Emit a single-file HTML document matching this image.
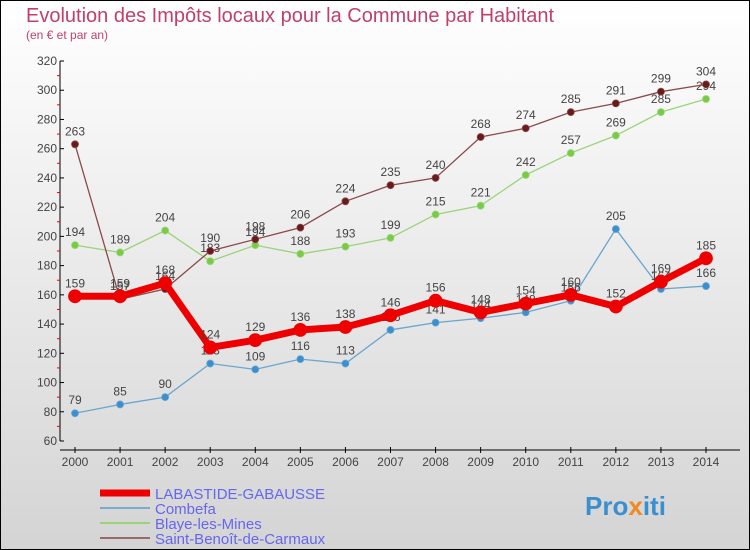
<!DOCTYPE html>
<html><head><meta charset="utf-8"><style>
body{margin:0;width:750px;height:550px;overflow:hidden}
svg{display:block;font-family:"Liberation Sans",sans-serif}
</style></head><body>
<svg id="c" width="750" height="550">
<defs><linearGradient id="bg" x1="0" y1="0" x2="0" y2="1"><stop offset="0" stop-color="#ffffff"/><stop offset="1" stop-color="#d4d4d4"/></linearGradient></defs>
<rect x="0.5" y="0.5" width="749" height="549" fill="url(#bg)" stroke="#000"/>
<text x="26" y="22" font-size="20" fill="#c0406a">Evolution des Impôts locaux pour la Commune par Habitant</text>
<text x="26" y="39" font-size="12" fill="#c0406a">(en € et par an)</text>
<g id="axes"></g><g id="series"></g>
<g>
<line x1="100" y1="493" x2="150" y2="493" stroke="#e00" stroke-width="7"/>
<text x="155" y="499" font-size="15" fill="#6666ee">LABASTIDE-GABAUSSE</text>
<line x1="100" y1="508" x2="150" y2="508" stroke="#7aabcc" stroke-width="2"/>
<text x="155" y="514" font-size="15" fill="#6666ee">Combefa</text>
<line x1="100" y1="523" x2="150" y2="523" stroke="#99d477" stroke-width="2"/>
<text x="155" y="529" font-size="15" fill="#6666ee">Blaye-les-Mines</text>
<line x1="100" y1="538" x2="150" y2="538" stroke="#9a6a6a" stroke-width="2"/>
<text x="155" y="544" font-size="15" fill="#6666ee">Saint-Benoît-de-Carmaux</text>
</g>
<text x="585" y="515" font-size="26" font-weight="bold" fill="#3a8fd0">Pro<tspan fill="#f08a20">x</tspan>iti</text>
</svg>
<script>
const years=[2000,2001,2002,2003,2004,2005,2006,2007,2008,2009,2010,2011,2012,2013,2014];
const yTicks=[60,80,100,120,140,160,180,200,220,240,260,280,300,320];
const labastide=[159,159,168,124,129,136,138,146,156,148,154,160,152,169,185];
const combefa=[79,85,90,113,109,116,113,136,141,144,148,156,205,164,166];
const blaye=[194,189,204,183,194,188,193,199,215,221,242,257,269,285,294];
const stbenoit=[263,157,164,190,198,206,224,235,240,268,274,285,291,299,304];
const NS="http://www.w3.org/2000/svg";
const X=i=>75+i*(706-75)/14, Y=v=>441-(v-60)*380/260;
function mk(t,a,p){const e=document.createElementNS(NS,t);for(const k in a)e.setAttribute(k,a[k]);p.appendChild(e);return e;}
const ax=document.getElementById('axes');
const ya=mk('line',{x1:60,y1:61,x2:60,y2:441,stroke:'#000'},ax);


yTicks.forEach((v,i)=>{mk('line',{x1:60,x2:64,y1:Y(v),y2:Y(v),stroke:'#000'},ax);
 if(i<yTicks.length-1)mk('line',{x1:57,x2:60,y1:Y(v+10),y2:Y(v+10),stroke:'#e00'},ax);
 const t=mk('text',{x:57,y:Y(v)+4,'font-size':12,'text-anchor':'end',fill:'#444'},ax);t.textContent=v;
 
 });
const xa=mk('line',{x1:60,y1:450,x2:740,y2:450,stroke:'#000'},ax);


years.forEach((y,i)=>{mk('line',{x1:X(i),x2:X(i),y1:447,y2:453,stroke:'#000'},ax);
 const t=mk('text',{x:X(i),y:466,'font-size':12,'text-anchor':'middle',fill:'#444'},ax);t.textContent=y;
 
 });
const sg=document.getElementById('series');
function draw(d,name,color,w,r,dot){const g=mk('g',{},sg);
 
 
 mk('polyline',{points:d.map((v,i)=>X(i)+','+Y(v)).join(' '),fill:'none',stroke:color,'stroke-width':w},g);
 d.forEach((v,i)=>{const c=mk('circle',{cx:X(i),cy:Y(v),r:r,fill:dot,stroke:color,'stroke-width':0.8},g);
  
  
  const t=mk('text',{x:X(i),y:Y(v)-9,'font-size':12,'text-anchor':'middle',fill:'#444'},g);t.textContent=v;});}
draw(combefa,'combefa','#6aa5cf',1.3,3.5,'#3a8fd0');
draw(blaye,'blaye','#9ad47a',1.3,3.5,'#77cc44');
draw(stbenoit,'saint-benoit','#8a4a4a',1.3,3.5,'#6a1a1a');
draw(labastide,'labastide','#ee0000',7,6.5,'#ee0000');
</script>
</body></html>
